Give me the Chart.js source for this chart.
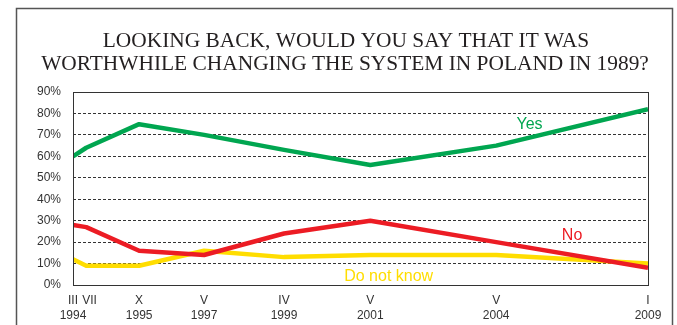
<!DOCTYPE html>
<html>
<head>
<meta charset="utf-8">
<script src="https://cdn.jsdelivr.net/npm/chart.js@4.4.1/dist/chart.umd.min.js"></script>
<style>
  html, body { margin: 0; padding: 0; background: #fff; }
  #wrap { width: 677px; height: 325px; position: relative; }
</style>
</head>
<body>
<div id="wrap"><canvas id="chart-worthwhile"></canvas></div>
<script>
// ── survey data ──
const TITLE_LINES = ['LOOKING BACK, WOULD YOU SAY THAT IT WAS', 'WORTHWHILE CHANGING THE SYSTEM IN POLAND IN 1989?'];
// position of each survey on the horizontal axis (0 = first, 100 = last)
const SLOTS   = [0, 2.3, 11.5, 22.8, 36.7, 51.7, 73.6, 100];
const MONTHS  = ['III', '  VII', 'X', 'V', 'IV', 'V', 'V', 'I'];
const YEARS   = ['1994', '', '1995', '1997', '1999', '2001', '2004', '2009'];
const YES     = [60, 64, 75, 70, 63, 56, 65, 82];
const NO      = [28, 27, 16, 14, 24, 30, 20, 8];
const DONT    = [12, 9, 9, 16, 13, 14, 14, 10];
const Y_TICKS = [0, 10, 20, 30, 40, 50, 60, 70, 80, 90];

const GREEN = '#00a650';
const RED = '#ec1c24';
const YELLOW = '#ffdd00';

// series captions: [text, colour, slot, percent at baseline]
const CAPTIONS = [
  ['Yes', GREEN, 79.4, 72.6],
  ['No', RED, 86.8, 21],
  ['Do not know', YELLOW, 54.9, 1.9],
];

const pts = vals => vals.map((v, i) => ({ x: SLOTS[i], y: v }));

const framePlugin = {
  id: 'frame',
  beforeDraw(chart) {
    const ctx = chart.ctx;
    ctx.save();
    ctx.strokeStyle = '#555';
    ctx.lineWidth = 1.5;
    ctx.strokeRect(16.5, 8.5, 656, 340);
    // title
    ctx.fillStyle = '#231f20';
    ctx.font = '21.4px "Liberation Serif", "Times New Roman", serif';
    ctx.textAlign = 'center';
    ctx.textBaseline = 'alphabetic';
    ctx.fillText(TITLE_LINES[0], 346, 47);
    ctx.fillText(TITLE_LINES[1], 345, 70);
    ctx.restore();
  },
  afterDraw(chart) {
    const { ctx, chartArea: a, scales } = chart;
    ctx.save();
    ctx.strokeStyle = '#333';
    ctx.lineWidth = 1;
    ctx.strokeRect(Math.round(a.left) + 0.5, Math.round(a.top) + 0.5,
      Math.round(a.right - a.left), Math.round(a.bottom - a.top));
    ctx.font = '16px "Liberation Sans", Arial, sans-serif';
    ctx.textAlign = 'center';
    ctx.textBaseline = 'alphabetic';
    CAPTIONS.forEach(([text, color, sx, sy]) => {
      ctx.fillStyle = color;
      ctx.fillText(text, scales.x.getPixelForValue(sx), scales.y.getPixelForValue(sy));
    });
    ctx.restore();
  }
};

new Chart(document.getElementById('chart-worthwhile'), {
  type: 'line',
  data: {
    datasets: [
      { label: 'Yes', data: pts(YES), borderColor: GREEN },
      { label: 'No', data: pts(NO), borderColor: RED },
      { label: 'Do not know', data: pts(DONT), borderColor: YELLOW },
    ].map(d => Object.assign(d, { borderWidth: 4.5, pointRadius: 0, tension: 0, fill: false, borderJoinStyle: 'round' }))
  },
  options: {
    responsive: true, maintainAspectRatio: false, animation: false,
    layout: { padding: { top: 92, right: 29, left: 0, bottom: 0 } },
    plugins: { legend: { display: false }, tooltip: { enabled: false }, title: { display: false } },
    scales: {
      x: {
        type: 'linear', min: 0, max: 100,
        afterBuildTicks: s => { s.ticks = SLOTS.map(v => ({ value: v })); },
        afterFit: s => { s.height = 40; },
        grid: { display: false, drawTicks: false },
        border: { display: false },
        ticks: {
          autoSkip: false, maxRotation: 0, padding: 8, color: '#333',
          font: { family: '"Liberation Sans", Arial, sans-serif', size: 12, lineHeight: 1.25 },
          callback: (v, i) => [MONTHS[i], YEARS[i]]
        }
      },
      y: {
        min: 0, max: 90,
        afterBuildTicks: s => { s.ticks = Y_TICKS.map(v => ({ value: v })); },
        afterFit: s => { s.width = 73; },
        grid: {
          drawTicks: false, lineWidth: 1,
          color: c => (c.tick.value === 0 || c.tick.value === 90) ? 'rgba(0,0,0,0)' : '#333'
        },
        border: { display: false, dash: [3, 2] },
        ticks: {
          padding: 12, color: '#333',
          font: { family: '"Liberation Sans", Arial, sans-serif', size: 12 },
          callback: v => v + '%'
        }
      }
    }
  },
  plugins: [framePlugin]
});
</script>
</body>
</html>
